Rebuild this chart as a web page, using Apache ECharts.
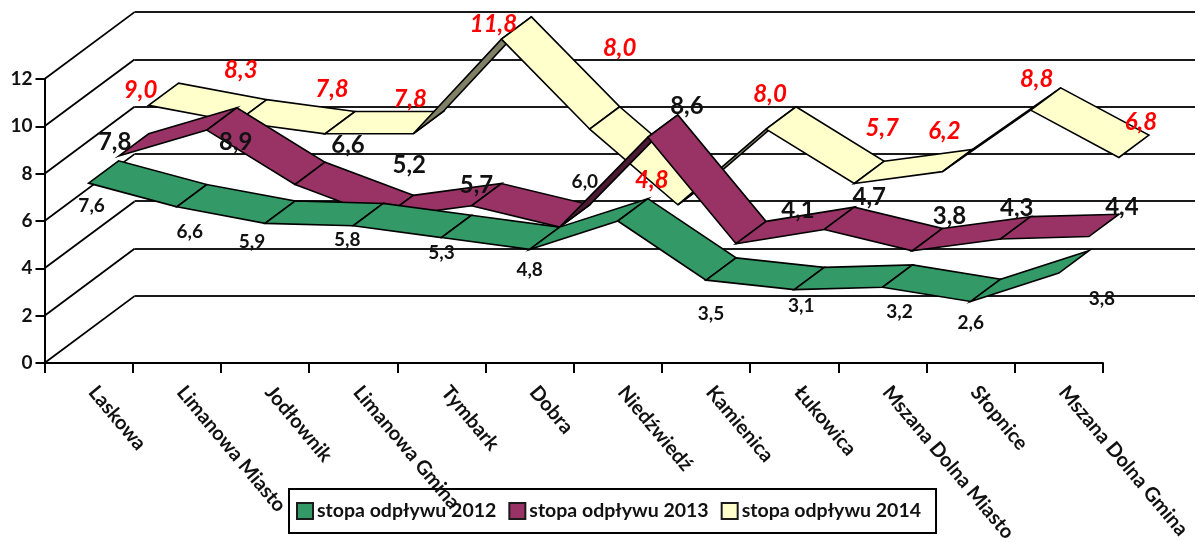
<!DOCTYPE html>
<html><head><meta charset="utf-8">
<style>html,body{margin:0;padding:0;background:#fff}#c{width:1198px;height:542px}</style>
<script src="https://cdn.jsdelivr.net/npm/echarts@6/dist/echarts.min.js"></script>
</head><body><div id="c"></div>
<script>
const categories = ['Laskowa','Limanowa Miasto','Jodłownik','Limanowa Gmina','Tymbark','Dobra','Niedźwiedź','Kamienica','Łukowica','Mszana Dolna Miasto','Słopnice','Mszana Dolna Gmina'];
const yTicks = [0,2,4,6,8,10,12];
const values2012 = [7.6,6.6,5.9,5.8,5.3,4.8,6.0,3.5,3.1,3.2,2.6,3.8];
const values2013 = [7.8,8.9,6.6,5.2,5.7,4.8,8.6,4.1,4.7,3.8,4.3,4.4];
const values2014 = [9.0,8.3,7.8,7.8,11.8,8.0,4.8,8.0,5.7,6.2,8.8,6.8];
const names = ['stopa odpływu 2012','stopa odpływu 2013','stopa odpływu 2014'];

// hand-placed label nudges (pixels from each ribbon's front point)
const nudge2012 = [[3,23],[13,25],[-13,19],[-6,14],[0,15],[0,20],[-33,-39],[5,34],[7,16],[17,25],[0,21],[43,26]];
const nudge2013 = [[-4,-14],[29,12],[53,-39],[26,-52],[5,-21],null,[39,-31],[62,-33],[45,-32],[37,-35],[16,-31],[33,-29]];
const nudge2014 = [[-8,-15],[4,-52],[7,-45],[-3,-35],[-8,-15],[30,-81],[-26,-25],[4,-35],[28,-55],[2,-40],[6,-31],[22,-35]];

const STEP_X = 30, STEP_Y = 22.3;      // depth of one ribbon on screen
const FONT = 'Lato, "Open Sans", sans-serif';

function ribbon(name, values, depth, color, under) {
  return {
    name, type: 'custom', coordinateSystem: 'cartesian2d', xAxisIndex: 0, yAxisIndex: 0,
    z: 3, clip: false, silent: true, itemStyle: {color},
    encode: {x: 0, y: 1},
    data: values.slice(0, -1).map((v, i) => [i, v, values[i + 1]]),
    renderItem(params, api) {
      const i = api.value(0);
      const a = api.coord([i, api.value(1)]);
      const b = api.coord([i + 1, api.value(2)]);
      const ox = depth * STEP_X, oy = -depth * STEP_Y;
      const A = [a[0] + ox, a[1] + oy], B = [b[0] + ox, b[1] + oy];
      const C = [B[0] + STEP_X, B[1] - STEP_Y], D = [A[0] + STEP_X, A[1] - STEP_Y];
      const slope = (a[1] - b[1]) / (b[0] - a[0]);
      const fill = slope > STEP_Y / STEP_X ? under : color;
      return {type: 'polygon', shape: {points: [A, B, C, D]},
        style: {fill, stroke: '#000', lineWidth: 1.6, lineJoin: 'miter'}};
    }
  };
}

function labels(values, nudges, depth, font) {
  return {
    type: 'custom', coordinateSystem: 'cartesian2d', xAxisIndex: 0, yAxisIndex: 0,
    z: 10, clip: false, silent: true, encode: {x: 0, y: 1},
    data: values.map((v, i) => [i, v]),
    renderItem(params, api) {
      const i = api.value(0), n = nudges[i];
      if (!n) return null;
      const v = api.value(1);
      const p = api.coord([i, v]);
      return {type: 'text', style: Object.assign({
        x: p[0] + depth * STEP_X + n[0], y: p[1] - depth * STEP_Y + n[1],
        text: v.toFixed(1).replace('.', ','), align: 'center', verticalAlign: 'middle'
      }, font)};
    }
  };
}

const diagonals = {
  type: 'custom', coordinateSystem: 'cartesian2d', xAxisIndex: 0, yAxisIndex: 0,
  z: 1, clip: false, silent: true, encode: {x: 0, y: 1},
  data: yTicks.map(v => [0, v]),
  renderItem(params, api) {
    const y = api.coord([0, api.value(1)])[1];
    const x = params.coordSys.x;
    return {type: 'line', shape: {x1: x, y1: y, x2: x + 3 * STEP_X, y2: y - 3 * STEP_Y},
      style: {stroke: '#000', lineWidth: 1.8}};
  }
};

const chart = echarts.init(document.getElementById('c'), null, {renderer: 'canvas'});
chart.setOption({
  animation: false,
  backgroundColor: '#fff',
  textStyle: {fontFamily: FONT},
  grid: [
    {left: 44.5, width: 1058.5, top: 79, height: 284, outerBoundsMode: 'none'},
    {left: 134.5, right: 3, top: 12, height: 283.5, outerBoundsMode: 'none'}
  ],
  xAxis: [
    {type: 'category', gridIndex: 0, data: categories, z: 6, boundaryGap: true,
      axisLine: {lineStyle: {color: '#000', width: 2}},
      axisTick: {show: true, length: 10, alignWithLabel: false, lineStyle: {color: '#000', width: 2}},
      axisLabel: {interval: 0, rotate: -50, margin: 21, color: '#111', fontFamily: FONT, fontWeight: 'bold', fontSize: 20, hideOverlap: false, padding: [0, 0, 8, 6]}
    },
    {type: 'category', gridIndex: 1, data: categories, show: false}
  ],
  yAxis: [
    {type: 'value', gridIndex: 0, min: 0, max: 12, interval: 2, splitLine: {show: false}, z: 6,
      axisLine: {show: true, lineStyle: {color: '#000', width: 2}},
      axisTick: {show: true, length: 9, lineStyle: {color: '#000', width: 2}},
      axisLabel: {margin: 12, color: '#111', fontFamily: FONT, fontWeight: 'bold', fontSize: 19}
    },
    {type: 'value', gridIndex: 1, min: 0, max: 12, interval: 2,
      axisLine: {show: false}, axisTick: {show: false}, axisLabel: {show: false},
      splitLine: {show: true, lineStyle: {color: '#1a1a1a', width: 2}}
    }
  ],
  legend: {
    left: 289, top: 489, orient: 'horizontal', z: 2,
    padding: [12, 15, 12, 7], itemGap: 12, itemWidth: 16, itemHeight: 16,
    icon: 'rect', backgroundColor: '#fff', borderColor: '#000', borderWidth: 2,
    itemStyle: {borderColor: '#1a1a1a', borderWidth: 2},
    textStyle: {color: '#111', fontFamily: FONT, fontWeight: 'bold', fontSize: 19.5, padding: [0, 0, 0, -1]},
    data: names
  },
  series: [
    diagonals,
    ribbon(names[2], values2014, 2, '#FFFFCC', '#808066'),
    ribbon(names[1], values2013, 1, '#993366', '#4D1A33'),
    ribbon(names[0], values2012, 0, '#339966', '#1A4D33'),
    labels(values2012, nudge2012, 0, {fill: '#111', fontFamily: FONT, fontWeight: 'bold', fontSize: 19}),
    labels(values2013, nudge2013, 1, {fill: '#111', fontFamily: FONT, fontWeight: 'bold', fontSize: 24}),
    labels(values2014, nudge2014, 2, {fill: '#FF0000', fontFamily: FONT, fontWeight: 'bold', fontStyle: 'italic', fontSize: 24})
  ]
});
</script></body></html>
